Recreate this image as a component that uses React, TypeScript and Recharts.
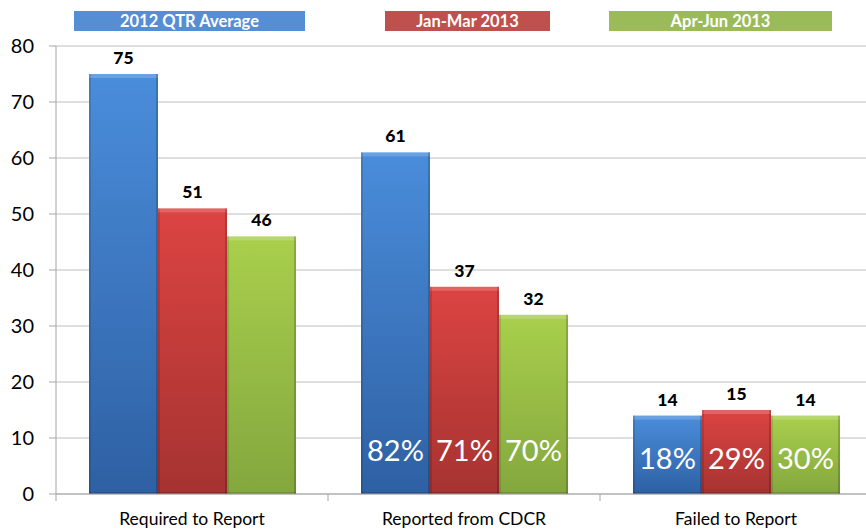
import React from 'react';
import { BarChart, Bar, XAxis, YAxis, CartesianGrid, LabelList } from 'recharts';

const categories = ['Required to Report', 'Reported from CDCR', 'Failed to Report'];
const avg2012 = [75, 61, 14];
const janMar2013 = [51, 37, 15];
const aprJun2013 = [46, 32, 14];
const pct2012 = ['', '82%', '18%'];
const pctJanMar = ['', '71%', '29%'];
const pctAprJun = ['', '70%', '30%'];
const yTicks = [0, 10, 20, 30, 40, 50, 60, 70, 80];

const series = [
  { key: 'avg', name: '2012 QTR Average', pct: pct2012, top: '#4a8ddb', bottom: '#2e60a3', legend: '#558ed5', left: 74, width: 231 },
  { key: 'jm', name: 'Jan-Mar 2013', pct: pctJanMar, top: '#dc4442', bottom: '#a53331', legend: '#c0504d', left: 385, width: 165 },
  { key: 'aj', name: 'Apr-Jun 2013', pct: pctAprJun, top: '#a9cf4c', bottom: '#84a73e', legend: '#9bbb59', left: 609, width: 223 },
];

const data = categories.map((name, i) => ({
  name,
  avg: avg2012[i],
  jm: janMar2013[i],
  aj: aprJun2013[i],
}));

const W = 874;
const H = 529;
const YW = 56;
const RIGHT = 2;
const BAND = (W - YW - RIGHT) / categories.length;
const FONT = 'Lato, "Open Sans", sans-serif';

const BevelBar = (props: any) => {
  const { x, y, width, height, gid } = props;
  if (!height || height <= 0) return null;
  return (
    <g>
      <rect x={x} y={y} width={width} height={height} fill={`url(#${gid})`} />
      <rect x={x} y={y} width={width} height={4} fill="#ffffff" opacity={0.18} />
      <rect x={x} y={y} width={2} height={height} fill="#000000" opacity={0.12} />
      <rect x={x + width - 2} y={y} width={2} height={height} fill="#000000" opacity={0.18} />
      <rect x={x} y={y + height - 2} width={width} height={2} fill="#000000" opacity={0.15} />
    </g>
  );
};

const XTick = (props: any) => {
  const { x, y, payload, index } = props;
  return (
    <g>
      <line x1={x - BAND / 2} y1={y - 8} x2={x - BAND / 2} y2={y - 1} stroke="#a6a6a6" />
      {index === categories.length - 1 && (
        <line x1={x + BAND / 2} y1={y - 8} x2={x + BAND / 2} y2={y - 1} stroke="#a6a6a6" />
      )}
      <text x={x} y={y + 23} textAnchor="middle" fontSize={17.5} fill="#000" fontFamily={FONT}>
        {payload.value}
      </text>
    </g>
  );
};

const pctLabel = (pct: string[]) => (props: any) => {
  const { x, y, width, height, index } = props;
  const text = pct[index];
  if (!text) return null;
  const lift = index === 1 ? 33 : 25;
  return (
    <text x={x + width / 2} y={y + height - lift} textAnchor="middle" fontSize={29} fill="#ffffff" fontFamily={FONT}>
      {text}
    </text>
  );
};

export default function App() {
  return (
    <div style={{ position: 'absolute', left: 0, top: 0, width: 866, height: H, overflow: 'hidden', background: '#fff' }}>
      {series.map((s) => (
        <div
          key={s.key}
          style={{
            position: 'absolute', left: s.left, top: 11, width: s.width, height: 20,
            background: s.legend, color: '#fff', fontFamily: FONT, fontWeight: 700,
            fontSize: 16.5, lineHeight: '20px', textAlign: 'center', zIndex: 2,
          }}
        >
          {s.name}
        </div>
      ))}
      <BarChart
        width={W}
        height={H}
        data={data}
        margin={{ top: 46, right: RIGHT, left: 0, bottom: 0 }}
        barCategoryGap={33}
        barGap={0}
      >
        <defs>
          {series.map((s) => (
            <linearGradient key={s.key} id={`g-${s.key}`} x1="0" y1="0" x2="0" y2="1">
              <stop offset="0%" stopColor={s.top} />
              <stop offset="100%" stopColor={s.bottom} />
            </linearGradient>
          ))}
        </defs>
        <CartesianGrid vertical={false} stroke="#bfbfbf" />
        <XAxis
          dataKey="name"
          height={35}
          tickLine={false}
          axisLine={{ stroke: '#a6a6a6' }}
          tick={<XTick />}
          interval={0}
        />
        <YAxis
          width={YW}
          domain={[0, 80]}
          ticks={yTicks}
          tickSize={7}
          tickMargin={15}
          axisLine={{ stroke: '#a6a6a6' }}
          tickLine={{ stroke: '#a6a6a6' }}
          tick={{ fontSize: 20, fill: '#000', fontFamily: FONT }}
        />
        {series.map((s) => (
          <Bar
            key={s.key}
            dataKey={s.key}
            name={s.name}
            isAnimationActive={false}
            shape={(p: any) => <BevelBar {...p} gid={`g-${s.key}`} />}
          >
            <LabelList
              dataKey={s.key}
              position="top"
              offset={10}
              fontSize={17.5}
              fontWeight={900}
              fill="#000"
              fontFamily={FONT}
            />
            <LabelList dataKey={s.key} content={pctLabel(s.pct)} />
          </Bar>
        ))}
      </BarChart>
    </div>
  );
}
